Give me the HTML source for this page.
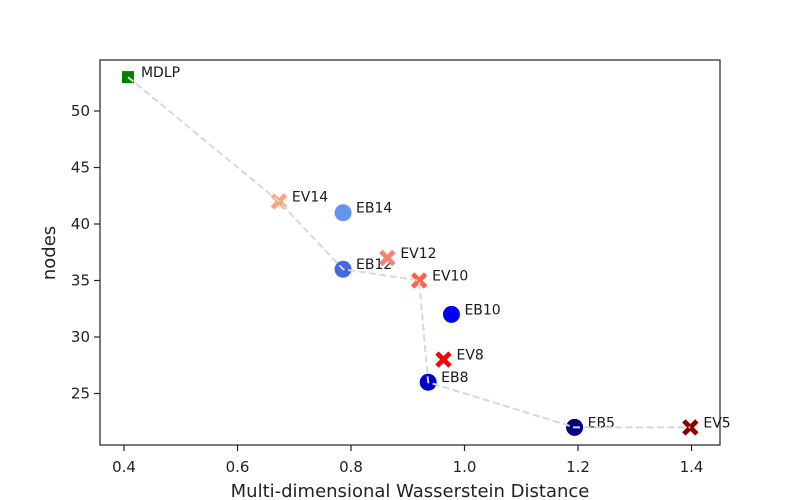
<!DOCTYPE html>
<html><head><meta charset="utf-8"><style>body{margin:0;background:#fff}svg{display:block;font-family:"DejaVu Sans","Liberation Sans",sans-serif}</style></head>
<body>
<svg id="chart" width="800" height="500"></svg>
<script>
const labels=["MDLP","EV14","EB14","EB12","EV12","EV10","EB10","EV8","EB8","EB5","EV5"];
const xVals=[0.407,0.673,0.786,0.786,0.864,0.920,0.977,0.963,0.936,1.194,1.398];
const yVals=[53,42,41,36,37,35,32,28,26,22,22];
const kinds=["s","x","o","o","x","x","o","x","o","o","x"];
const colors=["green","#FFA07A","#6495ED","#4169E1","#FA8072","#FF6347","#0000FF","#FF0000","#0000CD","#000080","#8B0000"];
const frontier=["MDLP","EV14","EB12","EV10","EB8","EB5","EV5"];
const xTicks=[0.4,0.6,0.8,1.0,1.2,1.4];
const yTicks=[25,30,35,40,45,50];
const NS="http://www.w3.org/2000/svg",svg=document.getElementById("chart");
const L=100,R=720,T=60,B=445;
const sx=v=>124+(v-0.4)*567.5, sy=v=>111+(50-v)*11.3;
function el(t,a,p){const e=document.createElementNS(NS,t);for(const k in a)e.setAttribute(k,a[k]);(p||svg).appendChild(e);return e;}
const frame=el("rect",{x:L,y:T,width:R-L,height:B-T,fill:"none",stroke:"#222","stroke-width":1.2});


xTicks.forEach(v=>{const x=sx(v);
 const t=el("line",{x1:x,x2:x,y1:B,y2:B+6,stroke:"#222","stroke-width":1.2});
 
 
 const tx=el("text",{x:x,y:B+27,"text-anchor":"middle","font-size":15,fill:"#222"});tx.textContent=v.toFixed(1);
 
 });
yTicks.forEach(v=>{const y=sy(v);
 const t=el("line",{x1:L-6,x2:L,y1:y,y2:y,stroke:"#222","stroke-width":1.2});
 
 
 const tx=el("text",{x:L-10,y:y+5,"text-anchor":"end","font-size":15,fill:"#222"});tx.textContent=v;
 
 });
const xt=el("text",{x:410,y:497,"text-anchor":"middle","font-size":18,fill:"#222"});xt.textContent="Multi-dimensional Wasserstein Distance";


const yt=el("text",{x:0,y:0,"text-anchor":"middle","font-size":18,fill:"#222",transform:"translate(55,253) rotate(-90)"});yt.textContent="nodes";


labels.forEach((n,i)=>{const x=sx(xVals[i]),y=sy(yVals[i]);let m;
 if(kinds[i]==="s")m=el("rect",{x:x-6,y:y-6,width:12,height:12,fill:colors[i]});
 else if(kinds[i]==="o")m=el("circle",{cx:x,cy:y,r:8.5,fill:colors[i]});
 else m=el("path",{d:`M${x-6.5} ${y-6.5}L${x+6.5} ${y+6.5}M${x+6.5} ${y-6.5}L${x-6.5} ${y+6.5}`,stroke:colors[i],"stroke-width":4.8});
 
 
 const t=el("text",{x:x+13,y:y+0,"font-size":14,fill:"#1a1a1a"});t.textContent=n;
 
 });
const pts=frontier.map(n=>{const i=labels.indexOf(n);return sx(xVals[i])+","+sy(yVals[i]);}).join(" ");
const pl=el("polyline",{points:pts,fill:"none",stroke:"#d8d8d8","stroke-width":2,"stroke-dasharray":"7,3.5"});


</script>
</body></html>
